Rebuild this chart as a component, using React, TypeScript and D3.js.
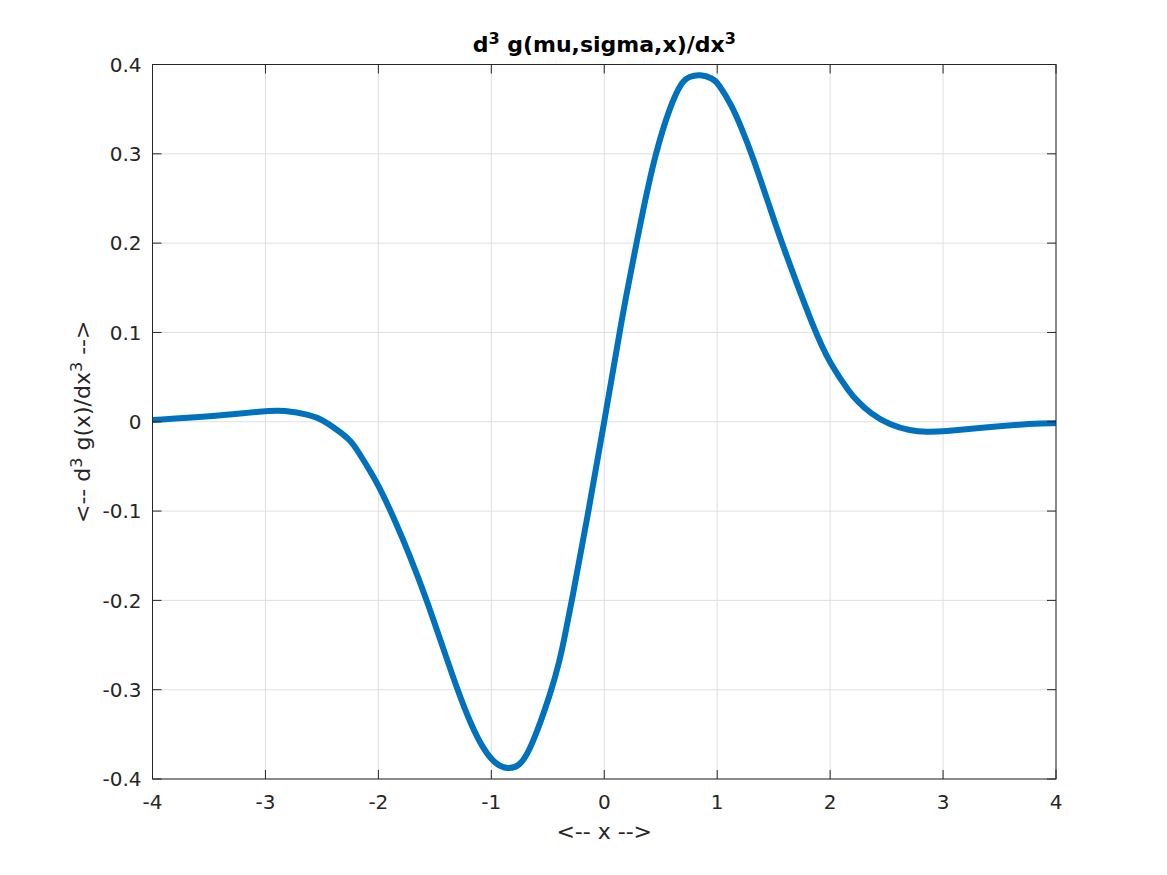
import React from "react";
import * as d3 from "d3";

const xVals = [
  -4.0, -3.5, -3.0, -2.84, -2.6, -2.5, -2.37, -2.248, -2.19, -2.04, -2.0, -1.89, -1.717,
  -1.57, -1.42, -1.3, -1.186, -1.07, -0.96, -0.856, -0.75, -0.65, -0.463, -0.395, -0.36,
  -0.292, -0.139, 0.0, 0.136, 0.186, 0.333, 0.451, 0.584, 0.687, 0.75, 0.85, 0.96, 1.01, 1.13,
  1.218, 1.307, 1.49, 1.572, 1.867, 2.0, 2.177, 2.236, 2.354, 2.53, 2.708, 2.856, 3.0, 3.357,
  3.8, 4.0,
];
const yVals = [
  0.002, 0.0056, 0.0123, 0.013, 0.0078, 0.0025, -0.0085, -0.0205, -0.031, -0.062, -0.0716,
  -0.0996, -0.151, -0.2, -0.256, -0.3, -0.3375, -0.367, -0.384, -0.389, -0.386, -0.367, -0.3,
  -0.267, -0.247, -0.204, -0.1, 0.0, 0.1, 0.136, 0.231, 0.3, 0.354, 0.381, 0.3865, 0.389,
  0.3845, 0.379, 0.354, 0.328, 0.3, 0.231, 0.2, 0.1, 0.065, 0.032, 0.024, 0.0094, -0.0037,
  -0.01, -0.0115, -0.011, -0.0063, -0.002, -0.0015,
];
const xTicks = [-4, -3, -2, -1, 0, 1, 2, 3, 4];
const yTicks = [-0.4, -0.3, -0.2, -0.1, 0, 0.1, 0.2, 0.3, 0.4];
const yTickLabels = ["-0.4", "-0.3", "-0.2", "-0.1", "0", "0.1", "0.2", "0.3", "0.4"];

const W = 1167;
const H = 875;
const L = 152.5;
const R = 1056;
const T = 64.5;
const B = 779;
const FONT = "'DejaVu Sans', sans-serif";
const AX = "#262626";

export default function App() {
  const x = d3.scaleLinear().domain([-4, 4]).range([L, R]);
  const y = d3.scaleLinear().domain([-0.4, 0.4]).range([B, T]);
  const pts = xVals.map((v, i) => [v, yVals[i]] as [number, number]);
  const line = d3
    .line<[number, number]>()
    .x((d) => x(d[0]))
    .y((d) => y(d[1]))
    .curve(d3.curveBasis);
  const tick = 9;
  return (
    <svg
      width={W}
      height={H}
      style={{ position: "absolute", left: 0, top: 0, background: "#fff" }}
      fontFamily={FONT}
    >
      <rect x={0} y={0} width={W} height={H} fill="#fff" />
      {xTicks.map((t) => (
        <line key={"gx" + t} x1={x(t)} x2={x(t)} y1={T} y2={B} stroke="#dfdfdf" strokeWidth={1} />
      ))}
      {yTicks.map((t) => (
        <line key={"gy" + t} x1={L} x2={R} y1={y(t)} y2={y(t)} stroke="#dfdfdf" strokeWidth={1} />
      ))}
      <path d={line(pts) || ""} fill="none" stroke="#0072BD" strokeWidth={6} strokeLinejoin="round" />
      <rect x={L} y={T} width={R - L} height={B - T} fill="none" stroke={AX} strokeWidth={1} />
      {xTicks.map((t) => (
        <g key={"tx" + t}>
          <line x1={x(t)} x2={x(t)} y1={B} y2={B - tick} stroke={AX} />
          <line x1={x(t)} x2={x(t)} y1={T} y2={T + tick} stroke={AX} />
          <text x={x(t)} y={809} textAnchor="middle" fontSize={20} fill={AX}>
            {String(t)}
          </text>
        </g>
      ))}
      {yTicks.map((t, i) => (
        <g key={"ty" + t}>
          <line x1={L} x2={L + tick} y1={y(t)} y2={y(t)} stroke={AX} />
          <line x1={R} x2={R - tick} y1={y(t)} y2={y(t)} stroke={AX} />
          <text x={141.5} y={y(t) + 7.3} textAnchor="end" fontSize={20} fill={AX}>
            {yTickLabels[i]}
          </text>
        </g>
      ))}
      <text x={(L + R) / 2} y={52} textAnchor="middle" fontSize={22} fontWeight="bold" fill="#000">
        <tspan>d</tspan>
        <tspan dy={-8.5} fontSize={16}>3</tspan>
        <tspan dy={8.5}>{"\u00a0g(mu,sigma,x)/dx"}</tspan>
        <tspan dy={-8.5} fontSize={16}>3</tspan>
      </text>
      <text x={(L + R) / 2} y={839} textAnchor="middle" fontSize={22} fill={AX}>
        {"<-- x -->"}
      </text>
      <text
        transform={`translate(90, ${(T + B) / 2}) rotate(-90)`}
        textAnchor="middle"
        fontSize={22}
        fill={AX}
      >
        <tspan>{"<-- d"}</tspan>
        <tspan dy={-8.5} fontSize={16}>3</tspan>
        <tspan dy={8.5}>{"\u00a0g(x)/dx"}</tspan>
        <tspan dy={-8.5} fontSize={16}>3</tspan>
        <tspan dy={8.5}>{" -->"}</tspan>
      </text>
    </svg>
  );
}
